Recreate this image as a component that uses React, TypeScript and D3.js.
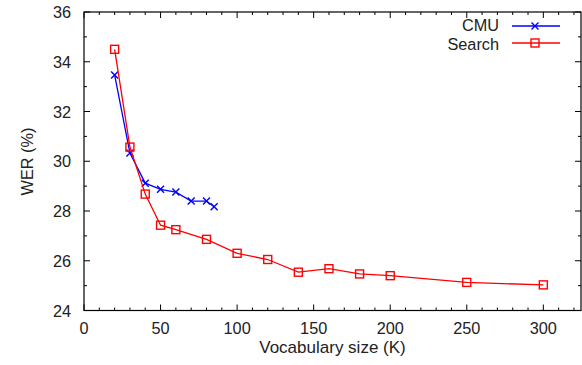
import React from "react";
import * as d3 from "d3";

const cmuVocab = [20, 30, 40, 50, 60, 70, 80, 85];
const cmuWer = [33.47, 30.33, 29.12, 28.87, 28.76, 28.4, 28.4, 28.17];
const searchVocab = [20, 30, 40, 50, 60, 80, 100, 120, 140, 160, 180, 200, 250, 300];
const searchWer = [34.5, 30.57, 28.68, 27.43, 27.25, 26.86, 26.3, 26.05, 25.54, 25.68, 25.47, 25.4, 25.13, 25.03];
const xTicks = [0, 50, 100, 150, 200, 250, 300];
const yTicks = [24, 26, 28, 30, 32, 34, 36];

const W = 582;
const H = 365;
const L = 84;
const R = 581;
const T = 12;
const B = 310.5;
const FS = 16.3;
const FONT = "'Liberation Sans', Arial, Helvetica, sans-serif";

export default function App() {
  const x = d3.scaleLinear().domain([0, 324.6]).range([L, R]);
  const y = d3.scaleLinear().domain([24, 36]).range([B, T]);
  const line = d3
    .line<[number, number]>()
    .x((d) => x(d[0]))
    .y((d) => y(d[1]));
  const cmu: [number, number][] = cmuVocab.map((v, i) => [v, cmuWer[i]]);
  const search: [number, number][] = searchVocab.map((v, i) => [v, searchWer[i]]);
  const xMinor = d3.range(0, 325, 10);
  const yMinor = d3.range(24, 36.01, 1);
  const blue = "#0000ff";
  const red = "#ff0000";
  const cross = (cx: number, cy: number, s: number, key: string) => (
    <path
      key={key}
      d={`M${cx - s},${cy - s}L${cx + s},${cy + s}M${cx - s},${cy + s}L${cx + s},${cy - s}`}
      stroke={blue}
      strokeWidth={1.4}
      fill="none"
    />
  );
  const square = (cx: number, cy: number, s: number, key: string) => (
    <rect
      key={key}
      x={cx - s}
      y={cy - s}
      width={2 * s}
      height={2 * s}
      stroke={red}
      strokeWidth={1.4}
      fill="none"
    />
  );
  return (
    <svg
      width={W}
      height={H}
      style={{ position: "absolute", left: 0, top: 0, background: "#fff" }}
      fontFamily={FONT}
    >
      <rect x={0} y={0} width={W} height={H} fill="#fff" />
      {xMinor.map((v) => (
        <g key={"xm" + v} stroke="#000" strokeWidth={1}>
          <line x1={x(v)} x2={x(v)} y1={B} y2={B - (v % 50 === 0 ? 6 : 3)} />
          <line x1={x(v)} x2={x(v)} y1={T} y2={T + (v % 50 === 0 ? 6 : 3)} />
        </g>
      ))}
      {yMinor.map((v) => (
        <g key={"ym" + v} stroke="#000" strokeWidth={1}>
          <line x1={L} x2={L + (v % 2 === 0 ? 6 : 3)} y1={y(v)} y2={y(v)} />
          <line x1={R} x2={R - (v % 2 === 0 ? 6 : 3)} y1={y(v)} y2={y(v)} />
        </g>
      ))}
      <rect x={L} y={T} width={R - L} height={B - T} fill="none" stroke="#000" strokeWidth={1.2} />
      {xTicks.map((v) => (
        <text key={"xt" + v} x={x(v)} y={334} fontSize={FS} textAnchor="middle" fill="#222">
          {v}
        </text>
      ))}
      {yTicks.map((v) => (
        <text key={"yt" + v} x={L - 13} y={y(v) + 6} fontSize={FS} textAnchor="end" fill="#222">
          {v}
        </text>
      ))}
      <text x={332.5} y={352.5} fontSize={FS + 0.7} textAnchor="middle" fill="#222">
        Vocabulary size (K)
      </text>
      <text
        transform={`translate(33,161.5) rotate(-90)`}
        fontSize={FS}
        textAnchor="middle"
        fill="#222"
      >
        WER (%)
      </text>
      <path d={line(cmu) || ""} stroke={blue} strokeWidth={1.3} fill="none" />
      {cmu.map((d, i) => cross(x(d[0]), y(d[1]), 3.5, "c" + i))}
      <path d={line(search) || ""} stroke={red} strokeWidth={1.3} fill="none" />
      {search.map((d, i) => square(x(d[0]), y(d[1]), 4, "s" + i))}
      <text x={499} y={31.3} fontSize={FS} textAnchor="end" fill="#222">
        CMU
      </text>
      <line x1={512} x2={560} y1={26} y2={26} stroke={blue} strokeWidth={1.3} />
      {cross(535, 26, 3.5, "lc")}
      <text x={499} y={49.5} fontSize={FS} textAnchor="end" fill="#222">
        Search
      </text>
      <line x1={512} x2={560} y1={43} y2={43} stroke={red} strokeWidth={1.3} />
      {square(535, 43, 4, "ls")}
    </svg>
  );
}
